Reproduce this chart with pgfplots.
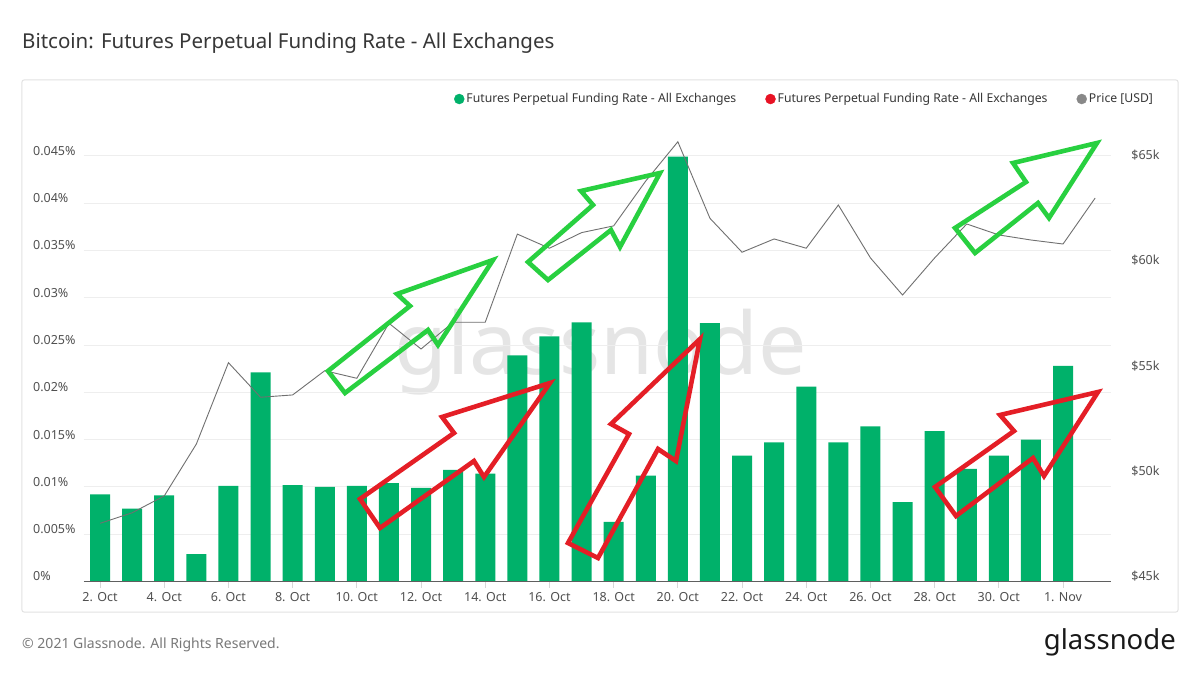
\documentclass[border=0pt]{standalone}
\usepackage{pgfplots}
\pgfplotsset{compat=1.18}
\usetikzlibrary{calc,backgrounds}
\usepackage{fontspec}
\setmainfont{Noto Sans}

\definecolor{barGreen}{RGB}{0,177,106}
\definecolor{legRed}{RGB}{232,18,36}
\definecolor{priceGray}{RGB}{112,112,112}
\definecolor{legGray}{RGB}{136,136,136}
\definecolor{arrowGreen}{RGB}{40,208,64}
\definecolor{arrowRed}{RGB}{228,30,38}
\definecolor{gridGray}{RGB}{238,238,238}
\definecolor{panelLine}{RGB}{226,226,226}
\definecolor{textDark}{RGB}{55,55,55}
\definecolor{labelGray}{RGB}{80,80,80}
\definecolor{footGray}{RGB}{120,120,120}
\definecolor{markGray}{RGB}{229,229,229}
\definecolor{baseLine}{RGB}{95,95,95}
\definecolor{tickGray}{RGB}{215,215,215}

% daily funding rate (%), index 0 = 2 Oct 2021
\pgfplotstableread{
idx rate
0  0.0092
1  0.0077
2  0.0091
3  0.0029
4  0.0101
5  0.0221
6  0.0102
7  0.0100
8  0.0101
9  0.0104
10 0.0099
11 0.0118
12 0.0114
13 0.0239
14 0.0259
15 0.0274
16 0.0063
17 0.0112
18 0.0449
19 0.0273
20 0.0133
21 0.0147
22 0.0206
23 0.0147
24 0.0164
25 0.0084
26 0.0159
27 0.0119
28 0.0133
29 0.0150
30 0.0228
}\fundingdata

% BTC price (USD), index 0 = 2 Oct 2021
\pgfplotstableread{
idx price
0  47760
1  48260
2  49060
3  51520
4  55380
5  53740
6  53850
7  55000
8  54640
9  57250
10 56030
11 57300
12 57300
13 61480
14 60810
15 61550
16 61870
17 64000
18 65860
19 62230
20 60620
21 61250
22 60810
23 62860
24 60350
25 58590
26 60350
27 61960
28 61440
29 61200
30 61010
31 63190
}\pricedata

\pgfplotsset{
  common/.style={
    scale only axis, width=1027.2pt, height=454.1pt,
    xmin=-0.5, xmax=31.5,
    axis line style={draw=none},
    scaled ticks=false,
    clip=false,
  }
}

\begin{document}
\begin{tikzpicture}[x=1pt,y=1pt]

% funding rate bars, left axis
\begin{axis}[common, name=main,
  ymin=0, ymax=0.048,
  ymajorgrids, grid style={gridGray, line width=0.9pt},
  ytick={0,0.005,0.01,0.015,0.02,0.025,0.03,0.035,0.04,0.045},
  yticklabels={0\%,0.005\%,0.01\%,0.015\%,0.02\%,0.025\%,0.03\%,0.035\%,0.04\%,0.045\%},
  yticklabel pos=left,
  yticklabel style={anchor=west, xshift=-45pt, yshift=5pt, inner sep=0pt, text=labelGray, font=\fontsize{12.5}{14}\selectfont},
  ytick style={draw=none},
  xtick={0,2,...,30},
  xticklabels={2. Oct,4. Oct,6. Oct,8. Oct,10. Oct,12. Oct,14. Oct,16. Oct,18. Oct,20. Oct,22. Oct,24. Oct,26. Oct,28. Oct,30. Oct,1. Nov},
  xtick pos=bottom, tick align=outside, major tick length=6pt,
  xtick style={draw=tickGray, line width=0.8pt},
  xticklabel style={anchor=center, yshift=-10pt, inner sep=0pt, text=labelGray, font=\fontsize{12.5}{14}\selectfont},
]
\addplot[ybar, bar width=20pt, bar shift=0pt, fill=barGreen, draw=none] table[x=idx, y=rate] {\fundingdata};
\draw[baseLine, line width=1.8pt] (rel axis cs:0,0) -- (rel axis cs:1,0);
\end{axis}

% price line, right axis
\begin{axis}[common, at={(main.south west)}, anchor=south west,
  ymin=45000, ymax=66542,
  xtick=\empty,
  ytick={45000,50000,55000,60000,65000},
  yticklabels={\$45k,\$50k,\$55k,\$60k,\$65k},
  yticklabel pos=right,
  yticklabel style={anchor=west, xshift=20pt, yshift=5pt, inner sep=0pt, text=labelGray, font=\fontsize{12.5}{14}\selectfont},
  ytick style={draw=none},
  legend columns=-1,
  legend style={at={(axis description cs:1.0426,1.0625)}, anchor=east, draw=none, fill=none,
    inner sep=0pt, outer sep=0pt, text=textDark, font=\fontsize{12.2}{14}\selectfont,
    /tikz/column sep=0pt,
    /tikz/every even column/.append style={column sep=27pt}},
]
\addplot[priceGray, line width=0.9pt, mark=none, forget plot] table[x=idx, y=price] {\pricedata};
\addlegendimage{legend image code/.code={\fill[barGreen] (0pt,0pt) circle (5pt);}}
\addlegendentry{Futures Perpetual Funding Rate - All Exchanges}
\addlegendimage{legend image code/.code={\fill[legRed] (0pt,0pt) circle (5pt);}}
\addlegendentry{Futures Perpetual Funding Rate - All Exchanges}
\addlegendimage{legend image code/.code={\fill[legGray] (0pt,0pt) circle (5pt);}}
\addlegendentry{Price [USD]}
\end{axis}

% page frame: pixel coordinates with origin at the top left corner
\coordinate (frameTL) at ($(main.south west)+(-84,581.5)$);

\begin{pgfonlayer}{background}
\begin{scope}[shift={(frameTL)}, yscale=-1]
  \fill[white] (0,0) rectangle (1200,675);
  \draw[panelLine, line width=1pt, rounded corners=2pt] (22,80) rectangle (1178,612);
  \node[anchor=west, inner sep=0pt, text=textDark, font=\fontsize{20.5}{24}\selectfont] at (22,43)
    {Bitcoin: Futures Perpetual Funding Rate - All Exchanges};
  \node[anchor=west, inner sep=0pt, text=footGray, font=\fontsize{14}{16}\selectfont] at (22,645)
    {© 2021 Glassnode. All Rights Reserved.};
  \node[anchor=east, inner sep=0pt, text=black!90, font=\fontsize{27.5}{30}\selectfont] at (1176,642)
    {glassnode};
  \node[anchor=base, inner sep=0pt, text=markGray, font=\fontsize{86}{90}\selectfont] at (601,375)
    {glassnode};
\end{scope}
\end{pgfonlayer}

% hand-drawn trend arrows
\begin{scope}[shift={(frameTL)}, yscale=-1, line width=4.6pt, line join=miter, miter limit=10]
  \draw[arrowGreen] (328,371) -- (410,306) -- (397,294) -- (493,260) -- (438,345) -- (428,330) -- (345,393) -- cycle;
  \draw[arrowGreen] (528,262) -- (593,205) -- (581,191) -- (660,173) -- (620,247) -- (611,230) -- (548,280) -- cycle;
  \draw[arrowGreen] (955,228) -- (1026,182) -- (1013,163) -- (1097,143) -- (1049,218) -- (1038,203) -- (975,253) -- cycle;
  \draw[arrowRed] (360,499) -- (454,433) -- (442,417) -- (550,383) -- (484,477) -- (474,461) -- (380,528) -- cycle;
  \draw[arrowRed] (568,543) -- (629,434) -- (611,424) -- (700,339) -- (676,461) -- (658,449) -- (598,558) -- cycle;
  \draw[arrowRed] (935,487) -- (1014,431) -- (1000,415) -- (1098,392) -- (1044,476) -- (1033,458) -- (956,516) -- cycle;
\end{scope}

\pgfresetboundingbox
\path[use as bounding box] (frameTL) rectangle ++(1200,-675);
\end{tikzpicture}
\end{document}
